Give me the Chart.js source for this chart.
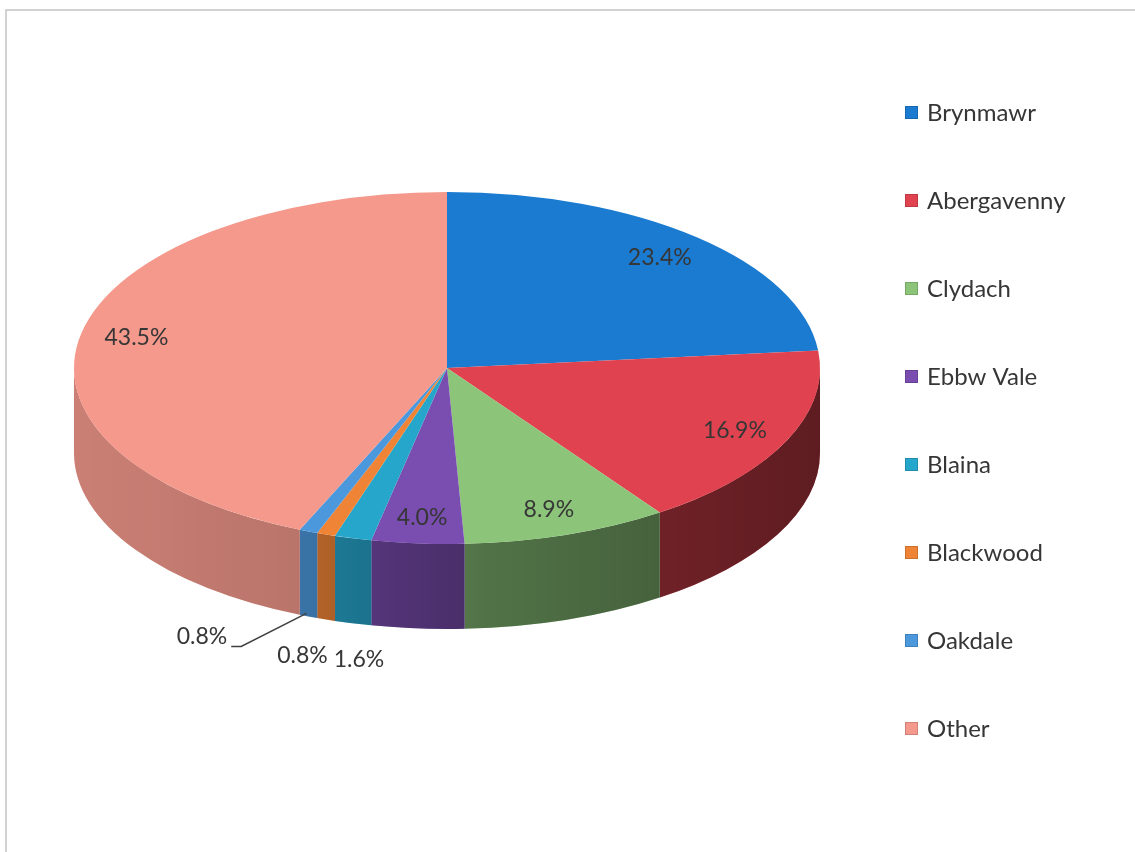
<!DOCTYPE html>
<html>
<head>
<meta charset="utf-8">
<script src="https://cdn.jsdelivr.net/npm/chart.js@4.4.1/dist/chart.umd.min.js"></script>
<style>
  html, body { margin: 0; background: #fff; }
  canvas { display: block; }
</style>
</head>
<body>
<canvas id="pie" width="1135" height="852"></canvas>
<script>
const towns = ['Brynmawr', 'Abergavenny', 'Clydach', 'Ebbw Vale', 'Blaina', 'Blackwood', 'Oakdale', 'Other']
const shares = [23.4, 16.9, 8.9, 4.0, 1.6, 0.8, 0.8, 43.5]
const topColours = ['#1a7bd0', '#e0434f', '#8cc57a', '#7a4db0', '#27a6cc', '#f08436', '#4c98dc', '#f4998c']

// chart.js lays the pie out as a circle of radius R, which gets squashed to an RX x RY disc
const CX = 447, CY = 368, R = 300
const RX = 373, RY = 176, DEPTH = 85
const LEGEND_X = 905, LEGEND_TOP = 112, LEGEND_STEP = 88
const FONT = 'Lato, "Open Sans", sans-serif'
const TEXT = '#363636'

// side wall of each slice on the front half of the disc
function drawSides(ctx, arcs) {
  const shade = ctx.createLinearGradient(CX - RX, 0, CX + RX, 0)
  shade.addColorStop(0, 'rgba(0,0,0,0.17)')
  shade.addColorStop(0.3, 'rgba(0,0,0,0.24)')
  shade.addColorStop(0.55, 'rgba(0,0,0,0.42)')
  shade.addColorStop(1, 'rgba(0,0,0,0.58)')

  arcs.forEach((arc, i) => {
    const a = Math.max(arc.startAngle, 0)
    const b = Math.min(arc.endAngle, Math.PI)
    if (b <= a) return
    ctx.beginPath()
    ctx.ellipse(arc.x, arc.y, RX, RY, 0, a, b)
    ctx.ellipse(arc.x, arc.y + DEPTH, RX, RY, 0, b, a, true)
    ctx.closePath()
    ctx.fillStyle = topColours[i]
    ctx.fill()
    ctx.fillStyle = shade
    ctx.fill()
  })
}

function drawLabels(chart) {
  const ctx = chart.ctx
  const arcs = chart.getDatasetMeta(0).data
  ctx.save()
  ctx.font = '23px ' + FONT
  ctx.fillStyle = TEXT
  ctx.textAlign = 'center'
  ctx.textBaseline = 'middle'

  const small = []
  arcs.forEach((arc, i) => {
    const mid = (arc.startAngle + arc.endAngle) / 2
    const text = shares[i].toFixed(1) + '%'
    if (shares[i] >= 2) {
      ctx.fillText(text, arc.x + RX * 0.85 * Math.cos(mid), arc.y + RY * 0.85 * Math.sin(mid))
    } else {
      small.push({ text, ax: arc.x + RX * Math.cos(mid), ay: arc.y + RY * Math.sin(mid) + DEPTH })
    }
  })

  // thin slices get their labels under the wall, pushed left when they collide
  let prevLeft = Infinity
  small.forEach(l => {
    const w = ctx.measureText(l.text).width
    let x = Math.min(l.ax + 6, prevLeft - 6 - w / 2)
    let y = l.ay + 36
    if (x < l.ax - 30) {
      x = prevLeft - 50 - w / 2
      y = l.ay + 20
      ctx.strokeStyle = '#404040'
      ctx.lineWidth = 1.5
      ctx.beginPath()
      ctx.moveTo(x + w / 2 + 4, y + 10)
      ctx.lineTo(x + w / 2 + 14, y + 10)
      ctx.lineTo(l.ax - 2, l.ay - 3)
      ctx.stroke()
    }
    ctx.fillText(l.text, x, y)
    prevLeft = x - w / 2
  })
  ctx.restore()
}

function drawLegend(chart) {
  const ctx = chart.ctx
  ctx.save()
  ctx.font = '24px ' + FONT
  ctx.textBaseline = 'middle'
  chart.data.labels.forEach((name, i) => {
    const y = LEGEND_TOP + i * LEGEND_STEP
    ctx.fillStyle = topColours[i]
    ctx.fillRect(LEGEND_X, y - 6, 13, 13)
    ctx.strokeStyle = 'rgba(0,0,0,0.15)'
    ctx.lineWidth = 1
    ctx.strokeRect(LEGEND_X + 0.5, y - 5.5, 12, 12)
    ctx.fillStyle = TEXT
    ctx.fillText(name, LEGEND_X + 22, y + 1)
  })
  ctx.restore()
}

const disc3d = {
  id: 'disc3d',
  beforeDraw(chart) {
    const ctx = chart.ctx
    ctx.save()
    ctx.strokeStyle = '#c4c4c4'
    ctx.lineWidth = 1.5
    ctx.beginPath()
    ctx.moveTo(6, 852)
    ctx.lineTo(6, 10)
    ctx.lineTo(1135, 10)
    ctx.stroke()
    ctx.restore()
  },
  beforeDatasetsDraw(chart) {
    const ctx = chart.ctx
    const arcs = chart.getDatasetMeta(0).data
    drawSides(ctx, arcs)
    const r = arcs[0].outerRadius
    ctx.save()
    ctx.translate(arcs[0].x, arcs[0].y)
    ctx.scale(RX / r, RY / r)
    ctx.translate(-arcs[0].x, -arcs[0].y)
  },
  afterDatasetsDraw(chart) {
    chart.ctx.restore()
    drawLabels(chart)
  },
  afterDraw(chart) {
    drawLegend(chart)
  }
}

new Chart(document.getElementById('pie'), {
  type: 'pie',
  data: {
    labels: towns,
    datasets: [{
      data: shares,
      backgroundColor: topColours,
      borderWidth: 0
    }]
  },
  options: {
    responsive: false,
    animation: false,
    layout: {
      padding: { left: CX - R, top: CY - R, right: 1135 - CX - R, bottom: 852 - CY - R }
    },
    plugins: {
      legend: { display: false },
      tooltip: { enabled: false }
    }
  },
  plugins: [disc3d]
})
</script>
</body>
</html>
